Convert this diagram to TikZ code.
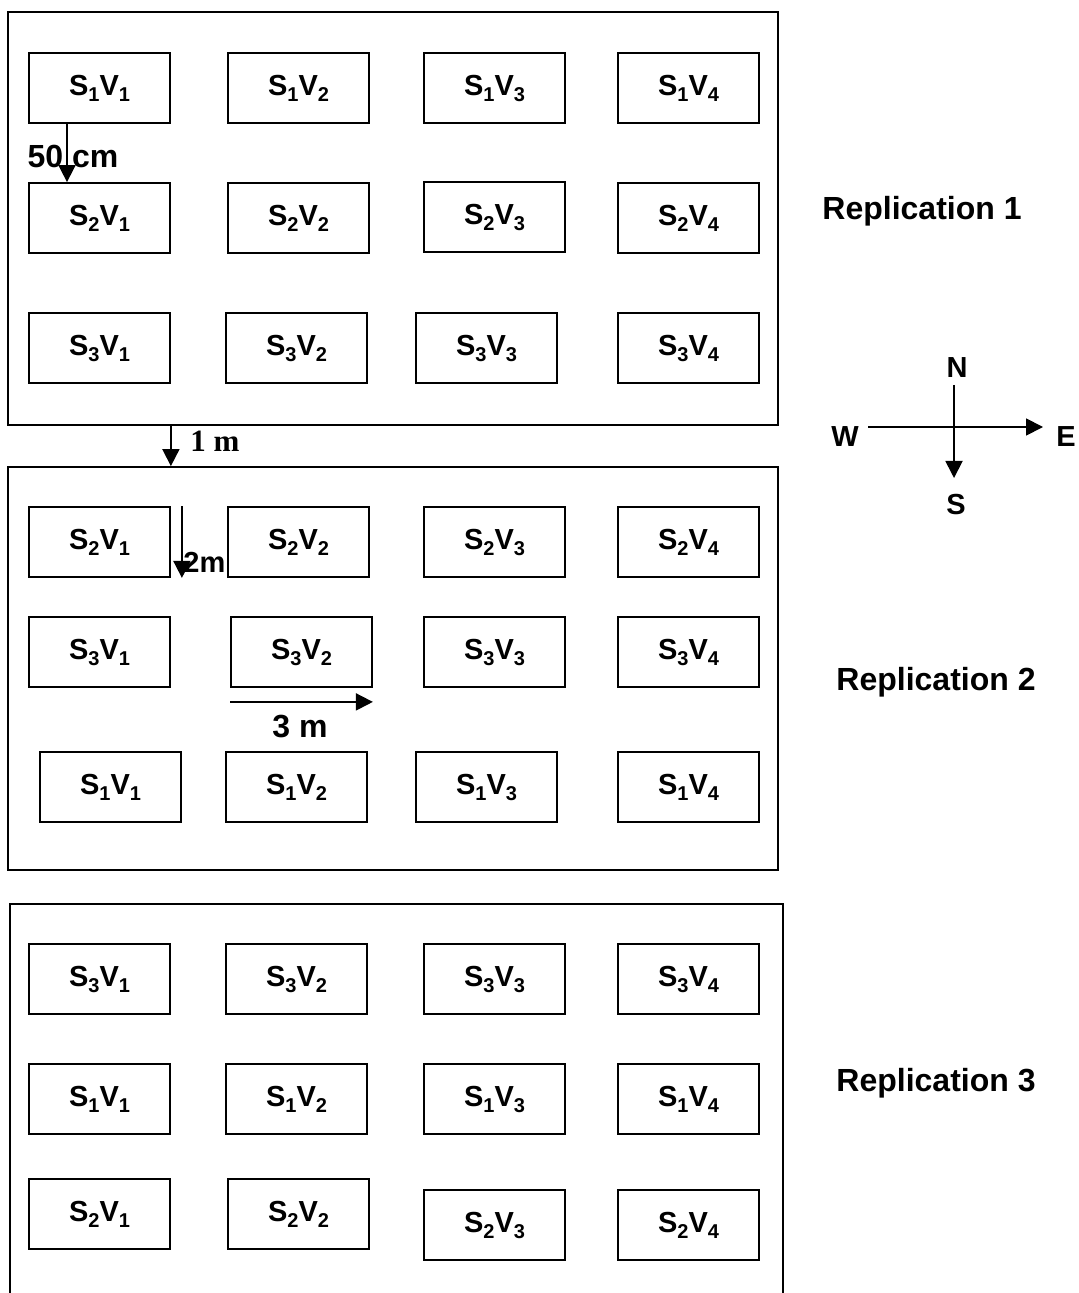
\documentclass[tikz,border=0pt]{standalone}
\usepackage{fontspec}
\setmainfont{Liberation Sans}
\newfontfamily\timesfont{Liberation Serif}
\usetikzlibrary{arrows.meta}
\tikzset{%
  plot/.style={draw,line width=0.9pt,minimum width=70.5pt,minimum height=35pt,inner sep=0pt,font=\bfseries\fontsize{14.5}{17}\selectfont},
  field/.style={draw,line width=0.9pt,inner sep=0pt},
  lbl/.style={font=\bfseries\fontsize{14.5}{17}\selectfont,inner sep=0pt},
  biglbl/.style={lbl,font=\bfseries\fontsize{16}{19}\selectfont},
  dim/.style={line width=0.9pt,-{Triangle[width=8.5pt,length=8.5pt]}}
}
\newcommand{\sv}[2]{S\raisebox{-3pt}{\fontsize{10}{10}\selectfont#1}V\raisebox{-3pt}{\fontsize{10}{10}\selectfont#2}}

\begin{document}
\begin{tikzpicture}[x=0.5pt,y=-0.5pt]
    \useasboundingbox (0,0) rectangle (1078,1293);
    % fields
    \path
      (393,218.5) node (rep1)[field,minimum width=385pt,minimum height=206.5pt]{}
      (393,668.5) node (rep2)[field,minimum width=385pt,minimum height=201.5pt]{}
      (10,1293) coordinate (rep3sw)
      (783,1293) coordinate (rep3se)
      (396.5,904) coordinate (rep3n);
    \draw[line width=0.9pt] (rep3sw) |- (rep3n) -| (rep3se);
    % replication 1
    \path
      (99.5,88) node (r1a11)[plot]{\sv{1}{1}}
      (298.5,88) node (r1a12)[plot]{\sv{1}{2}}
      (494.5,88) node (r1a13)[plot]{\sv{1}{3}}
      (688.5,88) node (r1a14)[plot]{\sv{1}{4}}
      (99.5,218) node (r1a21)[plot]{\sv{2}{1}}
      (298.5,218) node (r1a22)[plot]{\sv{2}{2}}
      (494.5,217) node (r1a23)[plot]{\sv{2}{3}}
      (688.5,218) node (r1a24)[plot]{\sv{2}{4}}
      (99.5,348) node (r1a31)[plot]{\sv{3}{1}}
      (296.5,348) node (r1a32)[plot]{\sv{3}{2}}
      (486.5,348) node (r1a33)[plot]{\sv{3}{3}}
      (688.5,348) node (r1a34)[plot]{\sv{3}{4}};
    % replication 2
    \path
      (99.5,542) node (r2a11)[plot]{\sv{2}{1}}
      (298.5,542) node (r2a12)[plot]{\sv{2}{2}}
      (494.5,542) node (r2a13)[plot]{\sv{2}{3}}
      (688.5,542) node (r2a14)[plot]{\sv{2}{4}}
      (99.5,652) node (r2a21)[plot]{\sv{3}{1}}
      (301.5,652) node (r2a22)[plot]{\sv{3}{2}}
      (494.5,652) node (r2a23)[plot]{\sv{3}{3}}
      (688.5,652) node (r2a24)[plot]{\sv{3}{4}}
      (110.5,787) node (r2a31)[plot]{\sv{1}{1}}
      (296.5,787) node (r2a32)[plot]{\sv{1}{2}}
      (486.5,787) node (r2a33)[plot]{\sv{1}{3}}
      (688.5,787) node (r2a34)[plot]{\sv{1}{4}};
    % replication 3
    \path
      (99.5,979) node (r3a11)[plot]{\sv{3}{1}}
      (296.5,979) node (r3a12)[plot]{\sv{3}{2}}
      (494.5,979) node (r3a13)[plot]{\sv{3}{3}}
      (688.5,979) node (r3a14)[plot]{\sv{3}{4}}
      (99.5,1099) node (r3a21)[plot]{\sv{1}{1}}
      (296.5,1099) node (r3a22)[plot]{\sv{1}{2}}
      (494.5,1099) node (r3a23)[plot]{\sv{1}{3}}
      (688.5,1099) node (r3a24)[plot]{\sv{1}{4}}
      (99.5,1214) node (r3a31)[plot]{\sv{2}{1}}
      (298.5,1214) node (r3a32)[plot]{\sv{2}{2}}
      (494.5,1225) node (r3a33)[plot]{\sv{2}{3}}
      (688.5,1225) node (r3a34)[plot]{\sv{2}{4}};
    % spacings
    \draw[dim] ([xshift=-16.25pt]r1a11.south) -- ([xshift=-16.25pt]r1a21.north);
    \node[biglbl] (l50) at (73,156) {50 cm};
    \draw[dim] (rep1.south -| r1a11.east) -- (rep2.north -| r1a11.east);
    \node[lbl,anchor=west,font=\timesfont\bfseries\fontsize{15.5}{17}\selectfont] (l1m) at (190,441) {1 m};
    \draw[dim] ([xshift=5.5pt]r2a11.north east) -- ([xshift=5.5pt]r2a11.south east);
    \node[lbl,anchor=west] (l2m) at (183,562) {2m};
    \draw[dim] ([yshift=-7pt]r2a22.south west) -- ([yshift=-7pt]r2a22.south east);
    \node[biglbl] (l3m) at (300,727) {3 m};
    % replication labels
    \node[biglbl] (t1) at (922,211) {Replication 1};
    \node[biglbl] (t2) at (936,682) {Replication 2};
    \node[biglbl] (t3) at (936,1083) {Replication 3};
    % compass
    \path
      (954,385) coordinate (cN)
      (954,478) coordinate (cS)
      (868,427) coordinate (cW)
      (1043,427) coordinate (cE);
    \draw[dim] (cN) -- (cS);
    \draw[dim] (cW) -- (cE);
    \node[lbl] (nN) at (957,368) {N};
    \node[lbl] (nS) at (956,505) {S};
    \node[lbl] (nW) at (845,437) {W};
    \node[lbl] (nE) at (1066,437) {E};
\end{tikzpicture}
\end{document}
